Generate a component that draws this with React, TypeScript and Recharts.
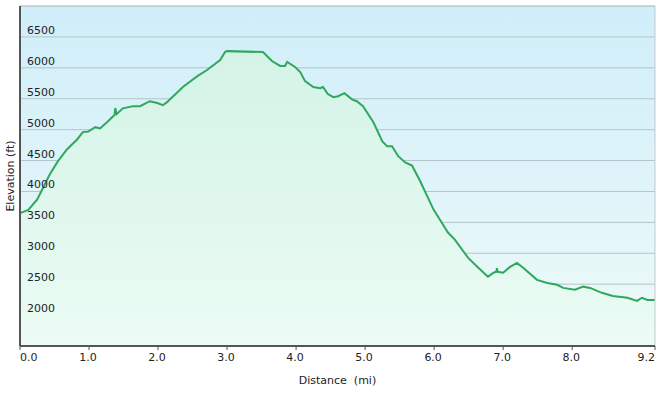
import React from "react";
import {
  ComposedChart,
  Area,
  XAxis,
  YAxis,
  CartesianGrid,
  ReferenceLine,
  Label,
} from "recharts";

const distances = [
  0, 0.12, 0.25, 0.43, 0.55, 0.68, 0.83, 0.91, 0.99, 1.09, 1.16, 1.26, 1.35,
  1.37, 1.38, 1.4, 1.49, 1.64, 1.74, 1.88, 1.99, 2.07, 2.13, 2.22, 2.36, 2.57,
  2.71, 2.9, 2.97, 3.0, 3.52, 3.65, 3.77, 3.84, 3.87, 3.99, 4.06, 4.13, 4.25,
  4.35, 4.39, 4.46, 4.54, 4.61, 4.7, 4.81, 4.88, 4.97, 5.12, 5.25, 5.32, 5.39,
  5.48, 5.58, 5.68, 5.8, 5.99, 6.2, 6.3, 6.49, 6.64, 6.78, 6.86, 6.9, 6.91,
  6.92, 7.0, 7.1, 7.2, 7.29, 7.49, 7.64, 7.78, 7.87, 8.04, 8.16, 8.26, 8.43,
  8.59, 8.8, 8.94, 9.01, 9.09, 9.2,
];
const elevations = [
  3650, 3700, 3870, 4275, 4490, 4680, 4845, 4960, 4970, 5040, 5020, 5120, 5215,
  5240, 5350, 5250, 5345, 5380, 5380, 5460, 5430, 5395, 5445, 5540, 5690, 5865,
  5965, 6125, 6255, 6270, 6255, 6110, 6030, 6030, 6095, 6010, 5930, 5785, 5690,
  5670, 5690, 5575, 5525, 5540, 5590, 5490, 5460, 5380, 5120, 4810, 4730, 4730,
  4570, 4470, 4420, 4160, 3710, 3335, 3220, 2930, 2765, 2620, 2685, 2700, 2760,
  2700, 2685, 2780, 2845, 2765, 2570, 2520, 2490, 2440, 2410, 2460, 2440, 2360,
  2310, 2280, 2230, 2280, 2245, 2245,
];
const xTicks = [0, 1, 2, 3, 4, 5, 6, 7, 8, 9.2];
const yTicks = [2000, 2500, 3000, 3500, 4000, 4500, 5000, 5500, 6000, 6500];

const data = distances.map((d, i) => ({ dist: d, elev: elevations[i] }));

const FONT = "'DejaVu Sans', Verdana, sans-serif";

const YTick = (props: any) => {
  const { x, y, payload } = props;
  return (
    <text x={x + 7} y={y - 3} fontSize={11} fontFamily={FONT} fill="#222" textAnchor="start">
      {payload.value}
    </text>
  );
};

const XTick = (props: any) => {
  const { x, y, payload, index } = props;
  const last = index === xTicks.length - 1;
  const first = index === 0;
  return (
    <text
      x={first ? x : last ? x : x - 1}
      y={y + 9}
      fontSize={11}
      fontFamily={FONT}
      fill="#222"
      textAnchor={first ? "start" : last ? "end" : "middle"}
    >
      {Number(payload.value).toFixed(1)}
    </text>
  );
};

export default function App() {
  return (
    <div style={{ position: "absolute", left: 0, top: 0 }}>
      <ComposedChart
        width={662}
        height={393}
        data={data}
        margin={{ top: 6, right: 7, bottom: 0, left: 0 }}
      >
        <defs>
          <linearGradient id="bg" x1="0" y1="0" x2="0" y2="1">
            <stop offset="0%" stopColor="#cfeefa" />
            <stop offset="60%" stopColor="#e2f5f9" />
            <stop offset="100%" stopColor="#edfbf7" />
          </linearGradient>
          <linearGradient id="areaFill" x1="0" y1="0" x2="0" y2="1">
            <stop offset="0%" stopColor="#d4f3e6" />
            <stop offset="100%" stopColor="#ebfcf5" />
          </linearGradient>
        </defs>
        <CartesianGrid
          vertical={false}
          stroke="#b4c4ca"
          strokeWidth={1}
          fill="url(#bg)"
          fillOpacity={1}
        />
        <Area
          type="linear"
          dataKey="elev"
          stroke="#2fa85e"
          strokeWidth={2}
          fill="url(#areaFill)"
          fillOpacity={1}
          baseValue={1500}
          dot={false}
          activeDot={false}
          isAnimationActive={false}
        />
        <ReferenceLine y={7000} stroke="#c4c8ca" strokeWidth={1} />
        <ReferenceLine x={9.2} stroke="#c4c8ca" strokeWidth={1} />
        <XAxis
          dataKey="dist"
          type="number"
          domain={[0, 9.2]}
          ticks={xTicks}
          interval={0}
          height={47}
          axisLine={{ stroke: "#555", strokeWidth: 2 }}
          tickLine={{ stroke: "#555", strokeWidth: 1 }}
          tickSize={4}
          tick={<XTick />}
        >
          <Label
            value={"Distance\u00a0\u00a0(mi)"}
            position="insideBottom"
            offset={9}
            fontSize={11}
            fontFamily={FONT}
            fill="#222"
          />
        </XAxis>
        <YAxis
          type="number"
          domain={[1500, 7000]}
          ticks={yTicks}
          interval={0}
          width={20}
          tickLine={false}
          tickSize={0}
          tickMargin={0}
          axisLine={{ stroke: "#555", strokeWidth: 2 }}
          tick={<YTick />}
        >
          <Label
            value="Elevation (ft)"
            angle={-90}
            position="center"
            fontSize={11}
            fontFamily={FONT}
            fill="#222"
          />
        </YAxis>
      </ComposedChart>
    </div>
  );
}
